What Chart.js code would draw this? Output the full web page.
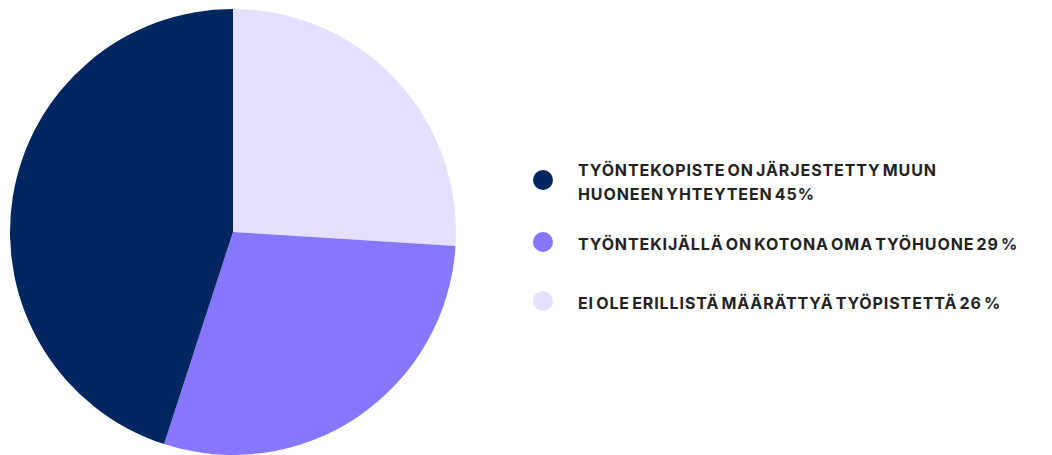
<!DOCTYPE html>
<html>
<head>
<meta charset="utf-8">
<script src="https://cdn.jsdelivr.net/npm/chart.js@4/dist/chart.umd.min.js"></script>
<style>
  html, body { margin: 0; padding: 0; background: #fff; }
  body { width: 1052px; height: 455px; position: relative; overflow: hidden; font-family: Inter, "Noto Sans", sans-serif; }
  #pie-wrap { position: absolute; left: 10px; top: 9px; width: 446px; height: 446px; }
  #legend { position: absolute; left: 533px; top: 158px; width: 510px; list-style: none; margin: 0; padding: 0; }
  .legend-item { position: relative; padding-left: 45px; color: #222; font-weight: 700; font-size: 16px; line-height: 24px; letter-spacing: 0.9px; word-spacing: -2.5px; text-transform: uppercase; white-space: nowrap; }
  .legend-item + .legend-item { margin-top: 26px; }
  .legend-item + .legend-item + .legend-item { margin-top: 35px; }
  .legend-item__dot { position: absolute; left: 0; top: 12px; width: 20px; height: 20px; border-radius: 50%; }
  .legend-item--single .legend-item__dot { top: 0; }
</style>
</head>
<body>
<div id="pie-wrap"><canvas id="pie"></canvas></div>
<ul id="legend"></ul>
<script>
const labels = [
  'Ei ole erillistä määrättyä työpistettä 26 %',
  'Työntekijällä on kotona oma työhuone 29 %',
  'Työntekopiste on järjestetty muun\nhuoneen yhteyteen 45%',
];
const values = [26, 29, 45];
const colors = ['#e5e0ff', '#8677fe', '#00265f'];

const legendEl = document.getElementById('legend');

function renderLegend() {
  legendEl.innerHTML = '';
  labels.slice().reverse().forEach((label, idx) => {
    const i = labels.length - 1 - idx;
    const lines = label.split('\n');
    const li = document.createElement('li');
    li.className = 'legend-item' + (lines.length === 1 ? ' legend-item--single' : '');
    li.innerHTML = `<span class="legend-item__dot" style="background:${colors[i]}"></span>${lines.join('<br>')}`;
    legendEl.appendChild(li);
  });
}

new Chart(document.getElementById('pie'), {
  type: 'pie',
  data: {
    labels,
    datasets: [{
      data: values,
      backgroundColor: colors,
      borderWidth: 0,
    }],
  },
  options: {
    responsive: true,
    maintainAspectRatio: false,
    animation: false,
    layout: { padding: 0 },
    plugins: { legend: { display: false }, tooltip: { enabled: false } },
  },
});

renderLegend();
</script>
</body>
</html>
